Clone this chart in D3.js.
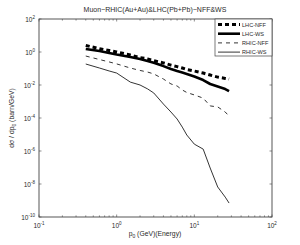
<!DOCTYPE html>
<html>
<head>
<meta charset="utf-8">
<script src="https://cdn.jsdelivr.net/npm/d3@7"></script>
<style>
body { margin: 0; background: #fff; }
svg { display: block; font-family: "Liberation Sans", Arial, sans-serif; }
</style>
</head>
<body>
<svg id="chart"></svg>
<script>
// p0 values (GeV), shared by all series
var P0 = [0.4, 0.6, 0.8, 1, 1.5, 2, 2.5, 3, 4, 5, 6, 7, 8, 10, 13, 16, 20, 25, 28];

var LHC_NFF = [2.5, 1.6, 1.23, 1.0, 0.66, 0.46, 0.38, 0.30, 0.22, 0.16, 0.13, 0.107, 0.087, 0.07, 0.053, 0.04, 0.03, 0.025, 0.023];
var LHC_WS = [1.52, 1.15, 0.87, 0.7, 0.5, 0.38, 0.28, 0.22, 0.14, 0.093, 0.07, 0.057, 0.047, 0.033, 0.02, 0.0115, 0.0081, 0.0057, 0.0043];
var RHIC_NFF = [0.57, 0.35, 0.25, 0.19, 0.107, 0.076, 0.061, 0.047, 0.023, 0.0116, 0.0087, 0.005, 0.0035, 0.0025, 0.0016, 5.4e-4, 4.7e-4, 2.3e-4, 1.3e-4];
var RHIC_WS = [0.187, 0.107, 0.071, 0.053, 0.015, 0.01, 0.0058, 0.0033, 7.0e-4, 2.3e-4, 8.7e-5, 2.8e-5, 9.3e-6, 2.6e-6, 1.3e-6, 9.3e-8, 6.6e-9, 1.6e-9, 7e-10];

var SERIES_NAMES = ["LHC-NFF", "LHC-WS", "RHIC-NFF", "RHIC-WS"];
var SERIES_VALUES = [LHC_NFF, LHC_WS, RHIC_NFF, RHIC_WS];

var X_TICK_EXP = [-1, 0, 1, 2];
var Y_TICK_EXP = [2, 0, -2, -4, -6, -8, -10];

var TITLE = "Muon\u2212RHIC(Au+Au)&LHC(Pb+Pb)\u2212NFF&WS";

// line styles per series
var STYLE = {
  "LHC-NFF": {w: 3, dash: "4,3"},
  "LHC-WS": {w: 2.6, dash: null},
  "RHIC-NFF": {w: 0.8, dash: "4,4"},
  "RHIC-WS": {w: 0.8, dash: null}
};

var W = 300, H = 245;
var pLeft = 39, pRight = 272, pTop = 19, pBottom = 217;

var svg = d3.select("#chart").attr("width", W).attr("height", H);

var x = d3.scaleLog().domain([0.1, 100]).range([pLeft, pRight]);
var y = d3.scaleLog().domain([1e-10, 100]).range([pBottom, pTop]);

var axisColor = "#444";
var textColor = "#2a2a2a";

// minor x ticks
var xMinor = [];
for (var e = -1; e < 2; e++) {
  for (var m = 2; m <= 9; m++) xMinor.push(m * Math.pow(10, e));
}

var g = svg.append("g");

// x ticks, bottom and top, pointing inward
function tickLines(vals, len) {
  vals.forEach(function(v) {
    g.append("line").attr("x1", x(v)).attr("x2", x(v))
      .attr("y1", pBottom).attr("y2", pBottom - len)
      .attr("stroke", axisColor).attr("stroke-width", 0.6);
    g.append("line").attr("x1", x(v)).attr("x2", x(v))
      .attr("y1", pTop).attr("y2", pTop + len)
      .attr("stroke", axisColor).attr("stroke-width", 0.6);
  });
}
tickLines(xMinor, 1.6);
tickLines(X_TICK_EXP.map(function(k) { return Math.pow(10, k); }), 2.5);

Y_TICK_EXP.forEach(function(k) {
  var v = Math.pow(10, k);
  g.append("line").attr("x1", pLeft).attr("x2", pLeft + 2.5)
    .attr("y1", y(v)).attr("y2", y(v))
    .attr("stroke", axisColor).attr("stroke-width", 0.6);
  g.append("line").attr("x1", pRight).attr("x2", pRight - 2.5)
    .attr("y1", y(v)).attr("y2", y(v))
    .attr("stroke", axisColor).attr("stroke-width", 0.6);
});

// box
g.append("rect").attr("x", pLeft).attr("y", pTop)
  .attr("width", pRight - pLeft).attr("height", pBottom - pTop)
  .attr("fill", "none").attr("stroke", axisColor).attr("stroke-width", 0.9);

// tick labels
X_TICK_EXP.forEach(function(k) {
  var t = g.append("text").attr("x", x(Math.pow(10, k))).attr("y", pBottom + 11)
    .attr("text-anchor", "middle").attr("font-size", 6.5).attr("fill", textColor);
  t.append("tspan").text("10");
  t.append("tspan").attr("dy", -3).attr("font-size", 4.5).text(k);
});
Y_TICK_EXP.forEach(function(k) {
  var t = g.append("text").attr("x", pLeft - 4).attr("y", y(Math.pow(10, k)) + 2.5)
    .attr("text-anchor", "end").attr("font-size", 6.5).attr("fill", textColor);
  t.append("tspan").text("10");
  t.append("tspan").attr("dy", -3).attr("font-size", 4.5).text(k);
});

// title
svg.append("text").attr("x", 155).attr("y", 12).attr("text-anchor", "middle")
  .attr("font-size", 7).attr("fill", textColor).text(TITLE);

// x label
var xl = svg.append("text").attr("x", 155).attr("y", 236).attr("text-anchor", "middle")
  .attr("font-size", 6.8).attr("fill", textColor);
xl.append("tspan").text("p");
xl.append("tspan").attr("dy", 2).attr("font-size", 5).text("0");
xl.append("tspan").attr("dy", -2).text(" (GeV)(Energy)");

// y label
var yl = svg.append("text").attr("transform", "translate(14," + ((pTop + pBottom) / 2) + ") rotate(-90)")
  .attr("text-anchor", "middle").attr("font-size", 6.8).attr("fill", textColor);
yl.append("tspan").text("d\u03c3 / dp");
yl.append("tspan").attr("dy", 2).attr("font-size", 5).text("0");
yl.append("tspan").attr("dy", -2).text(" (barn/GeV)");

// curves
var line = d3.line()
  .x(function(d) { return x(d[0]); })
  .y(function(d) { return y(d[1]); });

SERIES_NAMES.forEach(function(name, i) {
  var pts = P0.map(function(p, j) { return [p, SERIES_VALUES[i][j]]; });
  var s = STYLE[name];
  g.append("path").datum(pts).attr("d", line)
    .attr("fill", "none").attr("stroke", "#000")
    .attr("stroke-width", s.w)
    .attr("stroke-dasharray", s.dash)
    .attr("stroke-linejoin", "round");
});

// legend
var lg = svg.append("g");
lg.append("rect").attr("x", 215).attr("y", pTop).attr("width", pRight - 215).attr("height", 37)
  .attr("fill", "#fff").attr("stroke", axisColor).attr("stroke-width", 0.7);
SERIES_NAMES.forEach(function(name, i) {
  var yy = pTop + 5.5 + i * 9.2;
  var s = STYLE[name];
  lg.append("line").attr("x1", 218).attr("x2", 240).attr("y1", yy).attr("y2", yy)
    .attr("stroke", "#000").attr("stroke-width", s.w)
    .attr("stroke-dasharray", s.dash);
  lg.append("text").attr("x", 242).attr("y", yy + 2).attr("font-size", 5.6)
    .attr("fill", textColor).text(name);
});
</script>
</body>
</html>
